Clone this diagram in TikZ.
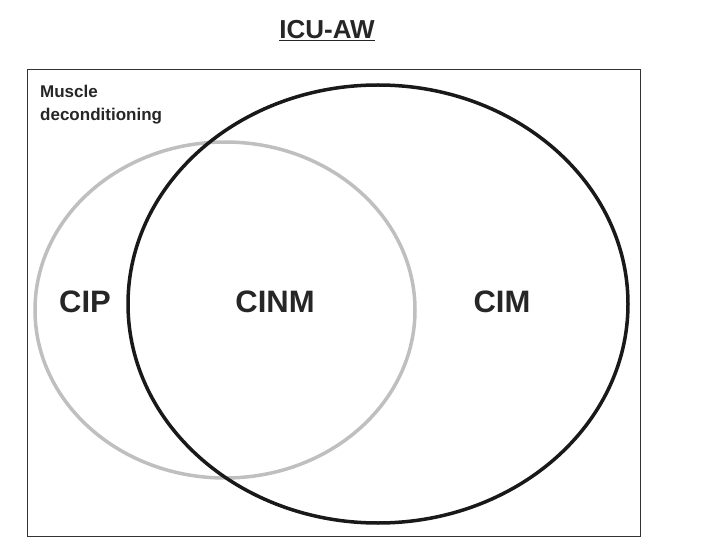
\documentclass[tikz,border=0pt]{standalone}
\usepackage{fontspec}
\setmainfont{Liberation Sans}
\begin{document}
\begin{tikzpicture}[x=1pt,y=-1pt,
  lbl/.style={font=\fontsize{31}{34}\selectfont\bfseries,text=black!85}]
\useasboundingbox (0,0) rectangle (710,556);
\node[draw=black!80,line width=1pt,minimum width=613pt,minimum height=466pt,inner sep=0pt] (box) at (333.5,303) {};
\draw[black!25,line width=3.5pt] (225,310) ellipse [x radius=190,y radius=168];
\draw[black!90,line width=3.5pt] (378,304) ellipse [x radius=250,y radius=219];
\node[font=\fontsize{26}{30}\selectfont\bfseries,text=black!85] (title) at (327,31) {\underline{ICU-AW}};
\node[anchor=north west,align=left,inner sep=0pt,font=\fontsize{17}{23}\selectfont\bfseries,text=black!85] (md) at (40,85) {Muscle\\deconditioning};
\node[lbl] (cip) at (85,302) {CIP};
\node[lbl] (cinm) at (275,302) {CINM};
\node[lbl] (cim) at (502,302) {CIM};
\end{tikzpicture}
\end{document}
